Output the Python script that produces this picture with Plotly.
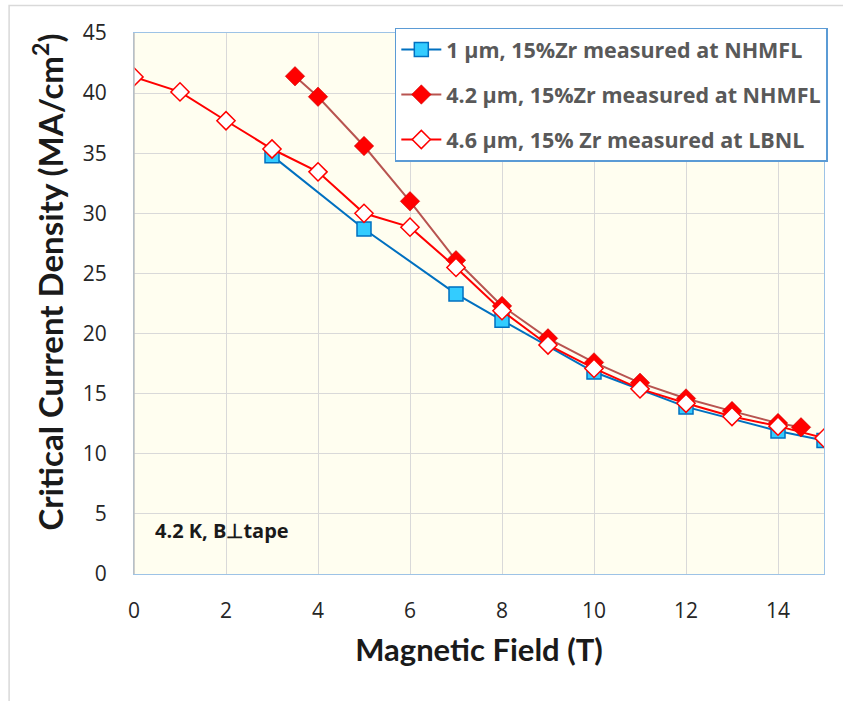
import plotly.graph_objects as go

# Data
x1 = [3, 5, 7, 8, 10, 12, 14, 15]
y1 = [34.8, 28.7, 23.3, 21.1, 16.8, 13.9, 11.9, 11.1]
name1 = "1 µm, 15%Zr measured at NHMFL"

x2 = [3.5, 4, 5, 6, 7, 8, 9, 10, 11, 12, 13, 14, 14.5]
y2 = [41.4, 39.7, 35.6, 31.0, 26.1, 22.3, 19.6, 17.6, 15.9, 14.6, 13.55, 12.55, 12.2]
name2 = "4.2 µm, 15%Zr measured at NHMFL"

x3 = [0, 1, 2, 3, 4, 5, 6, 7, 8, 9, 10, 11, 12, 13, 14, 15]
y3 = [41.35, 40.1, 37.7, 35.35, 33.45, 30.0, 28.85, 25.5, 21.9, 19.05, 17.1, 15.4, 14.2, 13.1, 12.3, 11.3]
name3 = "4.6 µm, 15% Zr measured at LBNL"

x_ticks = [0, 2, 4, 6, 8, 10, 12, 14]
y_ticks = [0, 5, 10, 15, 20, 25, 30, 35, 40, 45]

fig = go.Figure()
fig.add_trace(go.Scatter(x=x1, y=y1, name=name1, mode="lines+markers", legendgroup="a",
                         line=dict(color="#0070C0", width=2),
                         marker=dict(symbol="square", size=14, color="#33CCFF",
                                     line=dict(color="#0070C0", width=1.5))))
fig.add_trace(go.Scatter(x=x2, y=y2, name=name2, mode="lines+markers", legendgroup="b",
                         line=dict(color="#B85450", width=2),
                         marker=dict(symbol="diamond", size=15, color="#FF0000",
                                     line=dict(color="#C00000", width=0.5))))
fig.add_trace(go.Scatter(x=x3, y=y3, name=name3, mode="lines+markers", legendgroup="c",
                         line=dict(color="#FF0000", width=2),
                         marker=dict(symbol="diamond", size=14, color="#FFFFFF",
                                     line=dict(color="#FF0000", width=1.5))))

fig.update_layout(
    width=843, height=701,
    margin=dict(l=134, r=19, t=33, b=127),
    paper_bgcolor="white",
    plot_bgcolor="#FFFEF0",
    font=dict(family="Open Sans", color="#404040"),
    showlegend=True,
    legend=dict(x=0.378, y=1.010, xanchor="left", yanchor="top",
                bgcolor="white", bordercolor="#5B9BD5", borderwidth=1.5,
                font=dict(family="Open Sans", size=21.5, color="#595959", weight="bold"),
                tracegroupgap=14, itemwidth=40),
    xaxis=dict(range=[0, 15], tickvals=x_ticks, showgrid=True, gridcolor="#D9D9D9",
               zeroline=False, showline=True, linecolor="#9DC3E6", mirror=True,
               ticks="", ticklabelstandoff=18,
               tickfont=dict(family="Open Sans", size=21, color="#262626"),
               title=dict(text="Magnetic Field (T)", standoff=16,
                          font=dict(family="Lato", size=31, color="#1a1a1a", weight="bold"))),
    yaxis=dict(range=[0, 45], tickvals=y_ticks, showgrid=True, gridcolor="#D9D9D9",
               zeroline=False, showline=True, linecolor="#9DC3E6", mirror=True,
               ticks="", ticklabelstandoff=22,
               tickfont=dict(family="Open Sans", size=21, color="#262626")),
    annotations=[
        dict(text="Critical Current Density (MA/cm<sup>2</sup>)", xref="paper", yref="paper",
             x=-0.125, y=0.54, xanchor="center", yanchor="middle", textangle=-90,
             showarrow=False,
             font=dict(family="Lato", size=33, color="#1a1a1a", weight="bold")),
        dict(text="4.2 K, B⊥tape", xref="paper", yref="paper",
             x=0.028, y=0.08, xanchor="left", yanchor="middle", showarrow=False,
             font=dict(family="Open Sans", size=20, color="#1a1a1a", weight="bold")),
    ],
    shapes=[
        dict(type="rect", xref="paper", yref="paper", x0=-0.181, x1=1.05, y0=-0.25, y1=1.051,
             line=dict(color="#D9D9D9", width=1.5), layer="below"),
        dict(type="line", xref="paper", yref="paper", x0=0, x1=0, y0=0, y1=1,
             line=dict(color="#BFBFBF", width=1.5)),
    ],
)

fig.write_html("out.html")
